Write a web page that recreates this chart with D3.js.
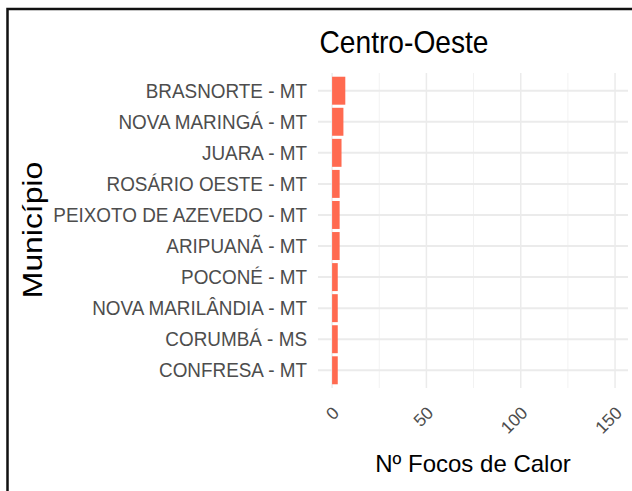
<!DOCTYPE html>
<meta charset="utf-8">
<style>
  body { margin: 0; background: #fff; }
  text { font-family: "Liberation Sans", Arial, sans-serif; }
</style>
<svg width="632" height="491"></svg>
<script src="https://d3js.org/d3.v7.min.js"></script>
<script>
// municipios, top to bottom
var municipios = [
  "BRASNORTE - MT", "NOVA MARINGÁ - MT", "JUARA - MT", "ROSÁRIO OESTE - MT",
  "PEIXOTO DE AZEVEDO - MT", "ARIPUANÃ - MT", "POCONÉ - MT",
  "NOVA MARILÂNDIA - MT", "CORUMBÁ - MS", "CONFRESA - MT"
]
var focos = [7, 6, 5, 4, 4, 4, 3, 3, 3, 3]
var xTicks = [0, 50, 100, 150]
var xMinor = [25, 75, 125]
// shared scale with the other regions -> max ~149
var xMax = 149.4

var svg = d3.select('svg')

// frame (only top and left edges visible)
svg.append('path')
  .attr('d', 'M7.5,491 V9 H632')
  .attr('fill', 'none')
  .attr('stroke', '#111')
  .attr('stroke-width', 2.5)

var panel = { left: 318, right: 628, top: 73, bottom: 388 }

var x = d3.scaleLinear()
  .domain([-0.05 * xMax, 1.05 * xMax])
  .range([panel.left, panel.right])

var y = d3.scaleBand()
  .domain(municipios)
  .range([panel.top, panel.bottom])
  .paddingInner(0.1)
  .paddingOuter(0.12)

var grid = svg.append('g')
grid.selectAll('line.minor').data(xMinor).enter().append('line')
  .attr('x1', d => x(d)).attr('x2', d => x(d))
  .attr('y1', panel.top).attr('y2', panel.bottom)
  .attr('stroke', '#f2f2f2').attr('stroke-width', 1)
grid.selectAll('line.major').data(xTicks).enter().append('line')
  .attr('x1', d => x(d)).attr('x2', d => x(d))
  .attr('y1', panel.top).attr('y2', panel.bottom)
  .attr('stroke', '#ebebeb').attr('stroke-width', 1.5)
grid.selectAll('line.h').data(municipios).enter().append('line')
  .attr('x1', panel.left).attr('x2', panel.right)
  .attr('y1', d => y(d) + y.bandwidth() / 2).attr('y2', d => y(d) + y.bandwidth() / 2)
  .attr('stroke', '#ebebeb').attr('stroke-width', 2)

// bars
svg.append('g').selectAll('rect')
  .data(municipios).enter().append('rect')
  .attr('x', x(0))
  .attr('y', d => y(d))
  .attr('width', (d, i) => x(focos[i]) - x(0))
  .attr('height', y.bandwidth())
  .attr('fill', '#FF6A50')

// y labels
svg.append('g').selectAll('text')
  .data(municipios).enter().append('text')
  .attr('transform', d => 'translate(307,' + (y(d) + y.bandwidth() / 2 + 7) + ') scale(0.97,1)')
  .attr('text-anchor', 'end')
  .attr('font-size', 19.5)
  .attr('fill', '#4d4d4d')
  .text(d => d)

// x tick labels, rotated
svg.append('g').selectAll('text')
  .data(xTicks).enter().append('text')
  .attr('transform', d => 'translate(' + (x(d) + 8) + ',414) rotate(-45)')
  .attr('text-anchor', 'end')
  .attr('font-size', 17.5)
  .attr('fill', '#4d4d4d')
  .text(d => d)

// titles
svg.append('text')
  .attr('transform', 'translate(404,53) scale(0.88,1)')
  .attr('text-anchor', 'middle')
  .attr('font-size', 32)
  .attr('fill', '#000')
  .text('Centro-Oeste')

svg.append('text')
  .attr('transform', 'translate(' + ((panel.left + panel.right) / 2) + ',472)')
  .attr('text-anchor', 'middle')
  .attr('font-size', 24)
  .attr('fill', '#000')
  .text('Nº Focos de Calor')

svg.append('text')
  .attr('transform', 'translate(42,230) rotate(-90) scale(1.18,1)')
  .attr('text-anchor', 'middle')
  .attr('font-size', 27)
  .attr('fill', '#000')
  .text('Município')
</script>
